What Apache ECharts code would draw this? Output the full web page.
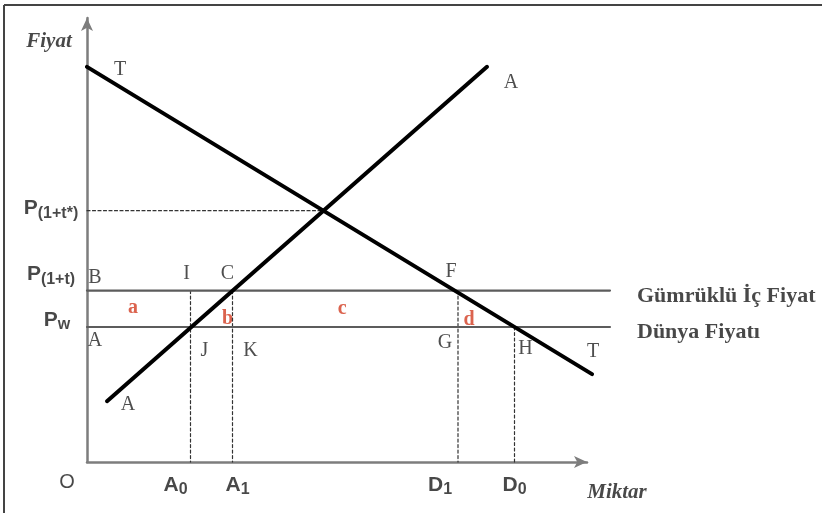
<!DOCTYPE html>
<html>
<head>
<meta charset="utf-8">
<script src="https://cdn.jsdelivr.net/npm/echarts@6/dist/echarts.min.js"></script>
<style>
  html, body { margin: 0; padding: 0; background: #fff; }
  #chart { width: 822px; height: 513px; }
</style>
</head>
<body>
<div id="chart"></div>
<script>
// values (quantity 0..100 along the arrow, price 0..100)
var priceWorld = 30.4;
var priceTariff = 38.6;
var pricePeak = 56.6;
var peakQty = 47.3;
var priceLineEnd = 104.6;
var supplyLine = [[4, 13.7], [80, 89]];
var demandLine = [[0, 89], [101, 19.8]];
var qtyNames = ['A0', 'A1', 'D1', 'D0'];
var qtyValues = [20.7, 29.1, 74.2, 85.5];

var q = {};
qtyNames.forEach(function (n, i) { q[n] = qtyValues[i]; });
var midPrice = (priceWorld + priceTariff) / 2;

var serif = 'Liberation Serif';
var sans = 'Liberation Sans';
var ink = '#1a1a1a';
var red = '#d23c22';

var letter = { fontFamily: serif, fontSize: 20, color: '#222' };
var redLetter = { fontFamily: serif, fontSize: 20, fontWeight: 'bold', color: red };
var rich = {
    m: { fontFamily: sans, fontWeight: 'bold', fontSize: 21, color: ink },
    s: { fontFamily: sans, fontWeight: 'bold', fontSize: 16, color: ink, padding: [10, 0, 0, 0] },
    o: { fontFamily: sans, fontSize: 20, color: ink },
    it: { fontFamily: serif, fontWeight: 'bold', fontStyle: 'italic', fontSize: 21, color: ink },
    big: { fontFamily: serif, fontWeight: 'bold', fontSize: 22, color: ink }
};

function tag(text, at, dx, dy, style, align) {
    return {
        value: at,
        label: Object.assign({ formatter: text, offset: [dx, dy], align: align || 'center', rich: rich }, style || {})
    };
}

var labels = [
    tag('T', demandLine[0], 33, 3, letter),
    tag('A', supplyLine[1], 24, 16, letter),
    tag('B', [0, priceTariff], 8, -13, letter),
    tag('A', [0, priceWorld], 8, 14, letter),
    tag('I', [q.A0, priceTariff], -4, -17, letter),
    tag('C', [q.A1, priceTariff], -5, -17, letter),
    tag('F', [q.D1, priceTariff], -7, -19, letter),
    tag('J', [q.A0, priceWorld], 14, 24, letter),
    tag('K', [q.A1, priceWorld], 18, 24, letter),
    tag('G', [q.D1, priceWorld], -13, 16, letter),
    tag('H', [q.D0, priceWorld], 11, 22, letter),
    tag('T', demandLine[1], 1, -22, letter),
    tag('A', supplyLine[0], 21, 4, letter),
    tag('a', [0, midPrice], 46, -1, redLetter),
    tag('b', [q.A1, priceWorld], -5, -8, redLetter),
    tag('c', [(q.A1 + q.D1) / 2, midPrice], -3, 0, redLetter),
    tag('d', [q.D1, priceWorld], 11, -7, redLetter),
    tag('{m|P}{s|(1+t*)}', [0, pricePeak], -36, -2),
    tag('{m|P}{s|(1+t)}', [0, priceTariff], -36, -16),
    tag('{m|P}{s|w}', [0, priceWorld], -30, -7),
    tag('{o|O}', [0, 0], -20, 20),
    tag('{m|A}{s|0}', [q.A0, 0], -15, 23),
    tag('{m|A}{s|1}', [q.A1, 0], 5, 23),
    tag('{m|D}{s|1}', [q.D1, 0], -18, 23),
    tag('{m|D}{s|0}', [q.D0, 0], 0, 23),
    tag('{it|Fiyat}', [0, 100], -38, 24),
    tag('{it|Miktar}', [100, 0], 30, 31),
    tag('{big|Gümrüklü İç Fiyat}', [priceLineEnd, priceTariff], 27, 6, null, 'left'),
    tag('{big|Dünya Fiyatı}', [priceLineEnd, priceWorld], 27, 5, null, 'left')
];

var guides = [
    [[0, pricePeak], [peakQty, pricePeak]],
    [[q.A0, priceTariff], [q.A0, 0]],
    [[q.A1, priceTariff], [q.A1, 0]],
    [[q.D1, priceTariff], [q.D1, 0]],
    [[q.D0, priceWorld], [q.D0, 0]]
];

function seg(data, color, width, type) {
    return {
        type: 'line', data: data, symbol: 'none', clip: false, silent: true,
        lineStyle: { color: color, width: width, type: type || 'solid', cap: 'round' }
    };
}

var series = guides.map(function (g) { return seg(g, '#333', 1.2, [3, 2.5]); });
series.push(seg([[0, priceTariff], [priceLineEnd, priceTariff]], '#5c5c5c', 2.2));
series.push(seg([[0, priceWorld], [priceLineEnd, priceWorld]], '#5c5c5c', 2.2));
series.push(seg(demandLine, '#000', 4));
series.push(seg(supplyLine, '#000', 4));
series.push({
    type: 'scatter', data: labels, symbolSize: 1, clip: false, silent: true,
    itemStyle: { color: 'transparent' },
    label: { show: true, position: 'inside', verticalAlign: 'middle' }
});

var arrowLine = {
    show: true, symbol: ['none', 'arrow'], symbolSize: [9, 13],
    lineStyle: { color: '#7d7d7d', width: 2.5 }
};
var bare = { splitLine: { show: false }, axisTick: { show: false }, axisLabel: { show: false } };

var chart = echarts.init(document.getElementById('chart'));
chart.setOption({
    animation: false,
    backgroundColor: '#fff',
    // grid 0 holds the marks (wider, so the price lines run past the arrow);
    // grid 1 only draws the quantity axis arrow
    grid: [
        { left: 87, top: 18, width: 523, height: 444 },
        { left: 87, top: 18, width: 500, height: 444 }
    ],
    xAxis: [
        Object.assign({ type: 'value', min: 0, max: priceLineEnd, gridIndex: 0, axisLine: { show: false } }, bare),
        Object.assign({ type: 'value', min: 0, max: 100, gridIndex: 1, axisLine: arrowLine }, bare)
    ],
    yAxis: [
        Object.assign({ type: 'value', min: 0, max: 100, gridIndex: 0, axisLine: arrowLine }, bare),
        Object.assign({ type: 'value', min: 0, max: 100, gridIndex: 1, axisLine: { show: false } }, bare)
    ],
    graphic: [
        { type: 'line', shape: { x1: 4, y1: 5, x2: 822, y2: 5 }, style: { stroke: '#444', lineWidth: 2 } },
        { type: 'line', shape: { x1: 4, y1: 5, x2: 4, y2: 513 }, style: { stroke: '#444', lineWidth: 2 } }
    ],
    series: series
});
</script>
</body>
</html>
